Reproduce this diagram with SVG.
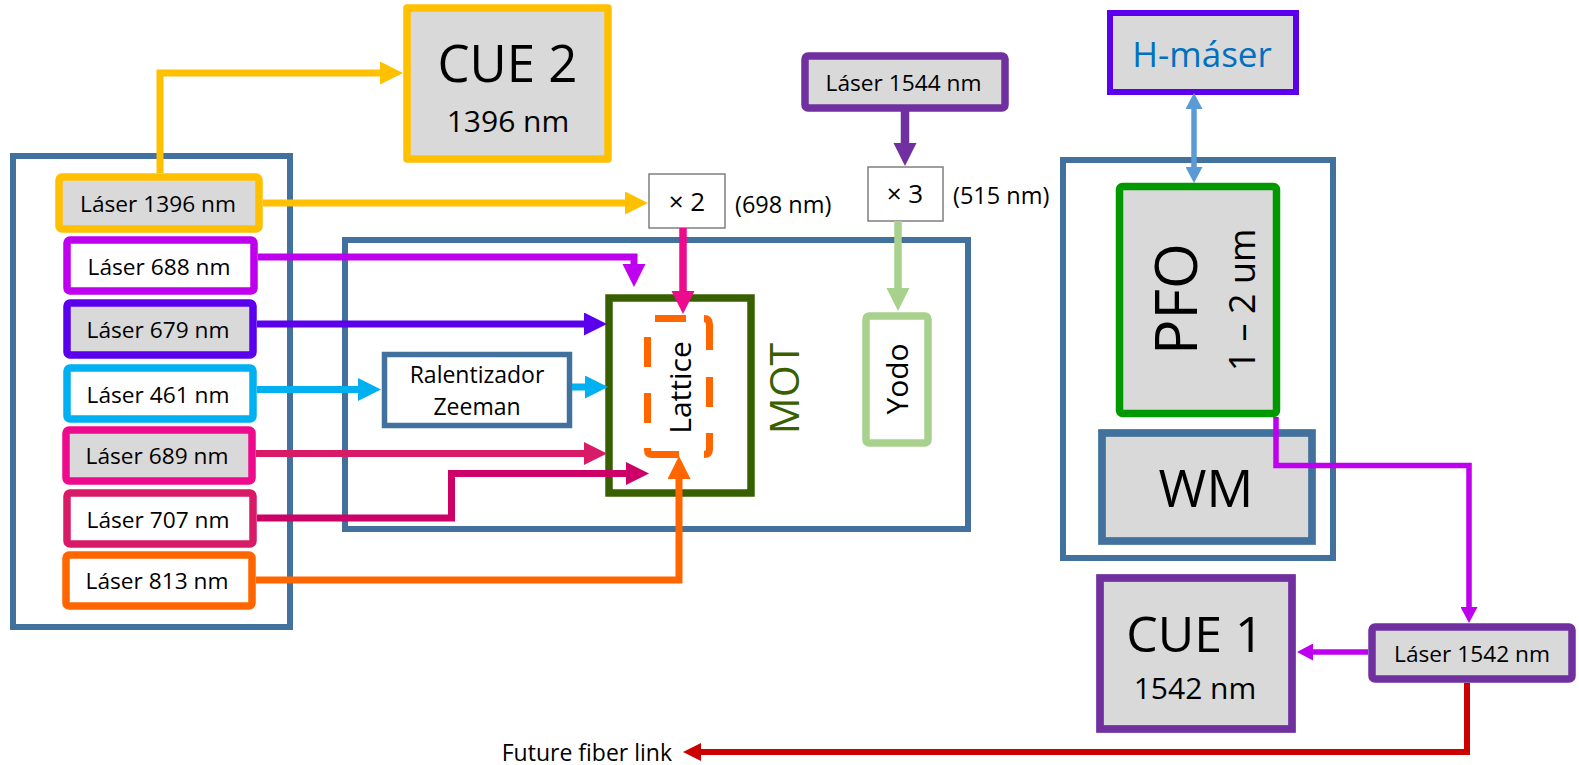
<svg xmlns="http://www.w3.org/2000/svg" width="1579" height="765" viewBox="0 0 1579 765">
<style>
text{font-family:"Open Sans","Noto Sans","Liberation Sans",sans-serif;fill:#000;text-anchor:middle}
.lab{font-size:22.7px}
.cont{fill:none;stroke:#41719C;stroke-width:6}
.box{stroke-width:7.5;stroke-linejoin:round}
.g{fill:#D9D9D9}
.w{fill:#FFFFFF}
.mult{fill:#FFFFFF;stroke:#7F7F7F;stroke-width:1.5}
.c{fill:none;stroke-linejoin:miter}
</style>
<defs>
<marker id="aY" markerUnits="userSpaceOnUse" markerWidth="24" markerHeight="24" refX="13" refY="11.5" orient="auto"><path d="M0,0 L23,11.5 L0,23 z" fill="#FFC000"/></marker>
<marker id="a688" markerUnits="userSpaceOnUse" markerWidth="24" markerHeight="24" refX="13" refY="11.5" orient="auto"><path d="M0,0 L23,11.5 L0,23 z" fill="#BF00EF"/></marker>
<marker id="a679" markerUnits="userSpaceOnUse" markerWidth="24" markerHeight="24" refX="13" refY="11.5" orient="auto"><path d="M0,0 L23,11.5 L0,23 z" fill="#5B00EC"/></marker>
<marker id="a461" markerUnits="userSpaceOnUse" markerWidth="24" markerHeight="24" refX="13" refY="11.5" orient="auto"><path d="M0,0 L23,11.5 L0,23 z" fill="#00B0F0"/></marker>
<marker id="a689" markerUnits="userSpaceOnUse" markerWidth="24" markerHeight="24" refX="13" refY="11.5" orient="auto"><path d="M0,0 L23,11.5 L0,23 z" fill="#D81B66"/></marker>
<marker id="a707" markerUnits="userSpaceOnUse" markerWidth="24" markerHeight="24" refX="13" refY="11.5" orient="auto"><path d="M0,0 L23,11.5 L0,23 z" fill="#CC0066"/></marker>
<marker id="a813" markerUnits="userSpaceOnUse" markerWidth="24" markerHeight="24" refX="13" refY="11.5" orient="auto"><path d="M0,0 L23,11.5 L0,23 z" fill="#FF6600"/></marker>
<marker id="aPk" markerUnits="userSpaceOnUse" markerWidth="24" markerHeight="24" refX="13" refY="11.5" orient="auto"><path d="M0,0 L23,11.5 L0,23 z" fill="#EE0A8C"/></marker>
<marker id="aPu" markerUnits="userSpaceOnUse" markerWidth="24" markerHeight="24" refX="13" refY="11.5" orient="auto"><path d="M0,0 L23,11.5 L0,23 z" fill="#7030A0"/></marker>
<marker id="aLg" markerUnits="userSpaceOnUse" markerWidth="24" markerHeight="24" refX="13" refY="11.5" orient="auto"><path d="M0,0 L23,11.5 L0,23 z" fill="#A9D18E"/></marker>
<marker id="aLb" markerUnits="userSpaceOnUse" markerWidth="17" markerHeight="17" refX="8" refY="8.5" orient="auto-start-reverse"><path d="M0,0 L16,8.5 L0,17 z" fill="#5B9BD5"/></marker>
<marker id="aMg" markerUnits="userSpaceOnUse" markerWidth="17" markerHeight="17" refX="8" refY="8.5" orient="auto"><path d="M0,0 L16,8.5 L0,17 z" fill="#BF00EF"/></marker>
<marker id="aRd" markerUnits="userSpaceOnUse" markerWidth="19" markerHeight="19" refX="8" refY="9" orient="auto"><path d="M0,0 L18,9 L0,18 z" fill="#CC0000"/></marker>
</defs>

<g id="lasers-panel"><rect class="cont" x="13" y="156" width="277" height="471"/></g>
<g id="vacuum-chamber"><rect class="cont" x="345" y="240" width="623" height="289"/></g>
<g id="comb-panel"><rect class="cont" x="1063" y="160" width="270" height="398"/></g>

<g id="cue2"><rect class="box g" x="407" y="8" width="201" height="151" stroke="#FFC000" stroke-width="8"/>
<text x="507.5" y="82" style="font-size:51px">CUE 2</text>
<text x="508" y="132" style="font-size:30px">1396 nm</text></g>

<g id="laser1396"><rect class="box g" x="59" y="177" width="200" height="52" rx="3" stroke="#FFC000"/><text class="lab" x="158" y="212">Láser 1396 nm</text></g>
<g id="laser688"><rect class="box w" x="67" y="240" width="187" height="51" rx="3" stroke="#BF00EF"/><text class="lab" x="159" y="275">Láser 688 nm</text></g>
<g id="laser679"><rect class="box g" x="67" y="303" width="186" height="52" rx="3" stroke="#5B00EC"/><text class="lab" x="158" y="338">Láser 679 nm</text></g>
<g id="laser461"><rect class="box w" x="67" y="368" width="186" height="51" rx="3" stroke="#00B0F0"/><text class="lab" x="158" y="403">Láser 461 nm</text></g>
<g id="laser689"><rect class="box g" x="66" y="430" width="186" height="51" rx="3" stroke="#EE0A8C"/><text class="lab" x="157" y="464">Láser 689 nm</text></g>
<g id="laser707"><rect class="box w" x="67" y="493" width="186" height="51" rx="3" stroke="#D81B66"/><text class="lab" x="158" y="528">Láser 707 nm</text></g>
<g id="laser813"><rect class="box w" x="66" y="555" width="186" height="51" rx="3" stroke="#FF6600"/><text class="lab" x="157" y="589">Láser 813 nm</text></g>

<g id="x2"><rect class="mult" x="649" y="174" width="76" height="54"/><text x="687" y="211" style="font-size:26px">× 2</text></g>
<text x="735" y="213" style="font-size:23.5px;text-anchor:start">(698 nm)</text>

<g id="laser1544"><rect class="box g" x="805" y="56" width="200" height="52" rx="3" stroke="#7030A0" stroke-width="7.7"/><text class="lab" x="903.5" y="91">Láser 1544 nm</text></g>
<g id="x3"><rect class="mult" x="868" y="167" width="75" height="54"/><text x="905" y="203" style="font-size:26px">× 3</text></g>
<text x="953" y="204" style="font-size:23.5px;text-anchor:start">(515 nm)</text>

<g id="zeeman"><rect x="384.5" y="354.5" width="185" height="71" fill="#fff" stroke="#41719C" stroke-width="5.5"/>
<text x="477" y="383" style="font-size:23px">Ralentizador</text>
<text x="477" y="415" style="font-size:23px">Zeeman</text></g>

<g id="mot"><rect x="609" y="298" width="142" height="195" fill="#fff" stroke="#386000" stroke-width="7.5"/>
<text transform="translate(799,388.5) rotate(-90)" style="font-size:41px;fill:#386000">MOT</text></g>

<g id="lattice"><path d="M655,318.5 H686 M704,318.5 Q709.5,318.5 709.5,324.5 V350 M709.5,377 V407 M709.5,433 V449 Q709.5,454.5 704,454.5 M647.5,337 V367 M647.5,393 V423 M647.5,448 V450 Q647.5,454.5 652,454.5 H679" fill="none" stroke="#FF6600" stroke-width="7"/>
<text transform="translate(691,387.5) rotate(-90)" style="font-size:30px">Lattice</text></g>

<g id="yodo"><rect class="box w" x="866" y="316" width="62" height="127" rx="3" stroke="#A9D18E" stroke-width="7.5"/>
<text transform="translate(908,379) rotate(-90)" style="font-size:30px">Yodo</text></g>

<g id="hmaser"><rect class="g" x="1110" y="13" width="186" height="79" stroke="#5B00EC" stroke-width="6"/>
<text x="1202" y="67" style="font-size:35px;fill:#0070C0">H-máser</text></g>

<g id="pfo"><rect class="box g" x="1119.5" y="186.5" width="157" height="227" rx="3" stroke="#009A00" stroke-width="7.3"/>
<text transform="translate(1197,299) rotate(-90)" style="font-size:59px">PFO</text>
<text transform="translate(1255,300) rotate(-90)" style="font-size:36px">1 – 2 um</text></g>

<g id="wm"><rect class="g" x="1102" y="433" width="210" height="108" stroke="#41719C" stroke-width="7.7"/>
<text x="1206" y="507" style="font-size:52px">WM</text></g>

<g id="laser1542"><rect class="box g" x="1372" y="627" width="200" height="52" rx="3" stroke="#7030A0" stroke-width="7.7"/><text class="lab" x="1472" y="662">Láser 1542 nm</text></g>

<g id="cue1"><rect class="g" x="1100" y="578" width="192" height="151" stroke="#7030A0" stroke-width="7.7"/>
<text x="1195" y="652" style="font-size:50px">CUE 1</text>
<text x="1195" y="699" style="font-size:30px">1542 nm</text></g>

<text x="672" y="761" style="font-size:23px;text-anchor:end">Future fiber link</text>

<g id="connectors">
<path class="c" d="M160,173 V73 H393" stroke="#FFC000" stroke-width="7" marker-end="url(#aY)"/>
<path class="c" d="M263,203 H638" stroke="#FFC000" stroke-width="7" marker-end="url(#aY)"/>
<path class="c" d="M258,257 H634 V277" stroke="#BF00EF" stroke-width="7" marker-end="url(#a688)"/>
<path class="c" d="M257,324 H597" stroke="#5B00EC" stroke-width="7" marker-end="url(#a679)"/>
<path class="c" d="M257,389.5 H371" stroke="#00B0F0" stroke-width="7" marker-end="url(#a461)"/>
<path class="c" d="M572,387 H598" stroke="#00B0F0" stroke-width="7" marker-end="url(#a461)"/>
<path class="c" d="M256,453.5 H597" stroke="#D81B66" stroke-width="7" marker-end="url(#a689)"/>
<path class="c" d="M257,518 H451.5 V473.5 H639" stroke="#CC0066" stroke-width="7" marker-end="url(#a707)"/>
<path class="c" d="M256,580 H679 V466" stroke="#FF6600" stroke-width="7" marker-end="url(#a813)"/>
<path class="c" d="M683,228 V304" stroke="#EE0A8C" stroke-width="7.5" marker-end="url(#aPk)"/>
<path class="c" d="M905,108 V156" stroke="#7030A0" stroke-width="8.5" marker-end="url(#aPu)"/>
<path class="c" d="M898,221 V301" stroke="#A9D18E" stroke-width="7.5" marker-end="url(#aLg)"/>
<path class="c" d="M1194,101 V175" stroke="#5B9BD5" stroke-width="5.5" marker-start="url(#aLb)" marker-end="url(#aLb)"/>
<path class="c" d="M1276,417 V465.5 H1469 V615" stroke="#BF00EF" stroke-width="5.5" marker-end="url(#aMg)"/>
<path class="c" d="M1368,652 H1305" stroke="#BF00EF" stroke-width="5.5" marker-end="url(#aMg)"/>
<path class="c" d="M1467,683 V752 H693" stroke="#CC0000" stroke-width="6" marker-end="url(#aRd)"/>
</g>
</svg>
